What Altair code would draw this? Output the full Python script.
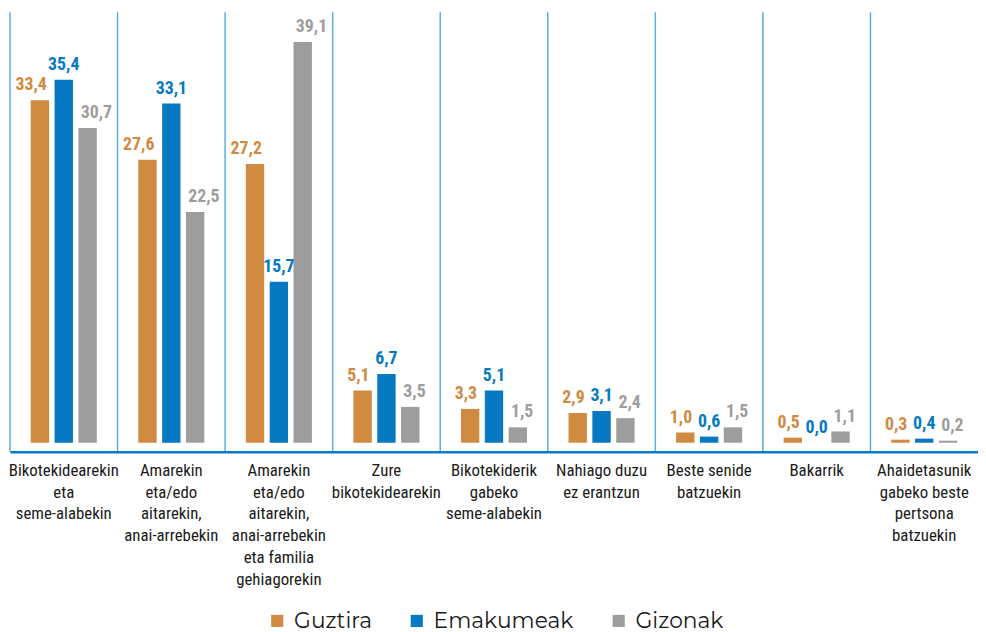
import altair as alt
import pandas as pd

categories = [
    "Bikotekidearekin|eta|seme-alabekin",
    "Amarekin|eta/edo|aitarekin,|anai-arrebekin",
    "Amarekin|eta/edo|aitarekin,|anai-arrebekin|eta familia|gehiagorekin",
    "Zure|bikotekidearekin",
    "Bikotekiderik|gabeko|seme-alabekin",
    "Nahiago duzu|ez erantzun",
    "Beste senide|batzuekin",
    "Bakarrik",
    "Ahaidetasunik|gabeko beste|pertsona|batzuekin",
]
series = ["Guztira", "Emakumeak", "Gizonak"]
guztira = [33.4, 27.6, 27.2, 5.1, 3.3, 2.9, 1.0, 0.5, 0.3]
emakumeak = [35.4, 33.1, 15.7, 6.7, 5.1, 3.1, 0.6, 0.0, 0.4]
gizonak = [30.7, 22.5, 39.1, 3.5, 1.5, 2.4, 1.5, 1.1, 0.2]
colors = ["#d18a42", "#0679c2", "#9d9d9c"]

rows = []
for name, vals in zip(series, [guztira, emakumeak, gizonak]):
    for c, v in zip(categories, vals):
        rows.append({"cat": c, "series": name, "value": v,
                     "label": f"{v:.1f}".replace(".", ",")})
df = pd.DataFrame(rows)

xscale = alt.Scale(domain=categories, paddingInner=0, paddingOuter=0)
xaxis = alt.Axis(title=None, labelAngle=0, ticks=False, grid=False,
                 bandPosition=0.5,
                 domain=True, domainColor="#0a7cc4", domainWidth=2.5,
                 labelExpr="split(datum.label, '|')",
                 labelFont="Roboto Condensed", labelFontSize=17,
                 labelLineHeight=22, labelPadding=11,
                 labelColor="#1a1a1a", labelOverlap=False,
                 labelLimit=0, zindex=1)
xenc = alt.X("cat:N", sort=categories, scale=xscale, axis=xaxis)
xoff = alt.XOffset("series:N", sort=series,
                   scale=alt.Scale(domain=series, paddingInner=0.23, paddingOuter=0.87))
yenc = alt.Y("value:Q", scale=alt.Scale(domain=[-0.87, 42], nice=False, zero=False),
             axis=None)
color = alt.Color("series:N", sort=series,
                  scale=alt.Scale(domain=series, range=colors),
                  legend=alt.Legend(title=None, orient="none", direction="horizontal",
                                    legendX=259, legendY=604,
                                    symbolType="square", symbolSize=150,
                                    symbolStrokeWidth=0, symbolOpacity=1,
                                    labelFont="Montserrat", labelFontSize=22,
                                    labelColor="#1a1a1a", labelOffset=6,
                                    columnPadding=34, padding=0))

base = alt.Chart(df)

bars = base.mark_bar().encode(x=xenc, xOffset=xoff, y=yenc, color=color)

rules = alt.Chart(pd.DataFrame({"cat": categories})).mark_rule(
    color="#5aaee3", strokeWidth=1.5
).encode(x=alt.X("cat:N", sort=categories, scale=xscale, bandPosition=0, axis=xaxis))

def labels(name, align, dx, col):
    return base.transform_filter(alt.datum.series == name).mark_text(
        align=align, dx=dx, dy=-10, baseline="alphabetic",
        font="Roboto Condensed", fontWeight="bold", fontSize=18, color=col
    ).encode(x=alt.X("cat:N", sort=categories, scale=xscale, axis=xaxis), xOffset=xoff,
             y=yenc, text="label:N")

chart = alt.layer(
    bars, rules,
    labels("Guztira", "right", 7, colors[0]),
    labels("Emakumeak", "center", 0, colors[1]),
    labels("Gizonak", "left", -7, colors[2]),
).properties(
    width=978, height=444,
    padding={"left": 0, "top": 0, "right": 0, "bottom": 0},
).configure_view(stroke="transparent")

chart.save("out.html", embed_options={"renderer": "svg", "actions": False})
